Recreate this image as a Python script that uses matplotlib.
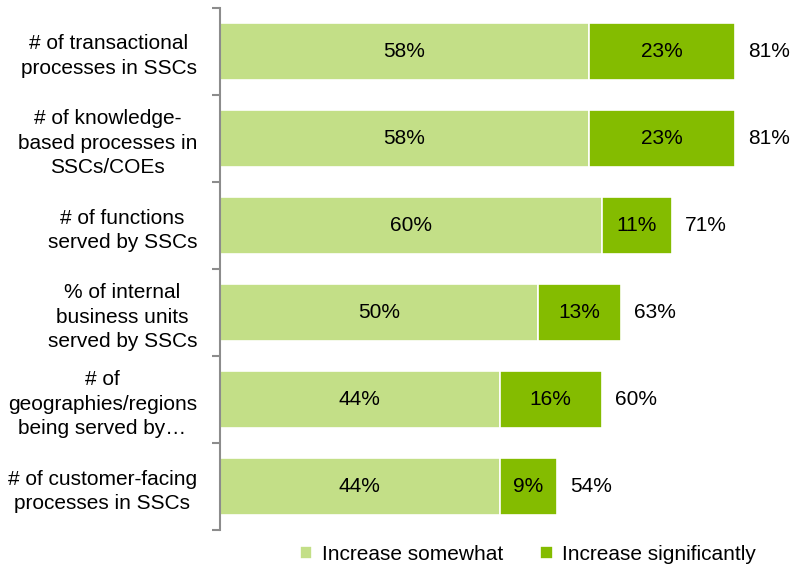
import matplotlib.pyplot as plt
import numpy as np

# Survey results: expected change in SSC scope
categories = [
    "# of transactional\nprocesses in SSCs",
    "# of knowledge-\nbased processes in\nSSCs/COEs",
    "# of functions\nserved by SSCs",
    "% of internal\nbusiness units\nserved by SSCs",
    "# of\ngeographies/regions\nbeing served by\u2026",
    "# of customer-facing\nprocesses in SSCs",
]
somewhat = [58, 58, 60, 50, 44, 44]
significantly = [23, 23, 11, 13, 16, 9]
totals = [81, 81, 71, 63, 60, 54]
series_names = ["Increase somewhat", "Increase significantly"]

LIGHT = "#C3DF87"
DARK = "#84BC00"

plt.rcParams["font.family"] = ["Liberation Sans", "DejaVu Sans"]
plt.rcParams["font.size"] = 15

fig = plt.figure(figsize=(7.94, 5.70), dpi=100)
ax = fig.add_axes([0.277, 0.070, 0.705, 0.916])

y = np.arange(len(categories))
h = 0.66
ax.barh(y, somewhat, height=h, color=LIGHT, edgecolor="white", linewidth=1.2,
        label=series_names[0])
ax.barh(y, significantly, left=somewhat, height=h, color=DARK, edgecolor="white",
        linewidth=1.2, label=series_names[1])

for i in range(len(categories)):
    ax.text(somewhat[i] / 2, y[i], f"{somewhat[i]}%", ha="center", va="center")
    ax.text(somewhat[i] + significantly[i] / 2, y[i], f"{significantly[i]}%",
            ha="center", va="center")
    ax.text(somewhat[i] + significantly[i] + 5.4, y[i], f"{totals[i]}%",
            ha="center", va="center")

ax.set_xlim(0, 88)
ax.set_ylim(len(categories) - 0.5, -0.5)
ax.set_yticks(y)
ax.set_yticklabels(categories, linespacing=1.35)
for lbl in ax.get_yticklabels():
    lbl.set_multialignment("center")
ax.set_yticks(np.arange(len(categories) + 1) - 0.5, minor=True)
ax.tick_params(axis="y", which="major", length=0, pad=16.5)
ax.tick_params(axis="y", which="minor", length=6, width=1.5, color="#8C8C8C")
ax.set_xticks([])

for side in ["top", "right", "bottom"]:
    ax.spines[side].set_visible(False)
ax.spines["left"].set_color("#8C8C8C")
ax.spines["left"].set_linewidth(1.5)

fig.legend(loc="lower center", bbox_to_anchor=(0.665, -0.022), ncol=2, frameon=False,
           handlelength=0.6, handleheight=0.6, handletextpad=0.45, columnspacing=1.8,
           fontsize=15)

fig.savefig("out.png", dpi=100)
